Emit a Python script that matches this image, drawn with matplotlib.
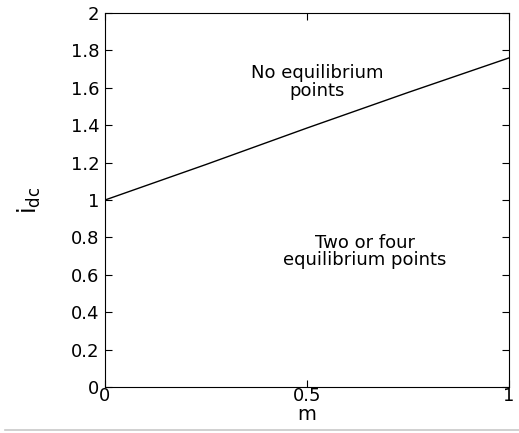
import matplotlib
matplotlib.use("Agg")
import matplotlib.pyplot as plt
from matplotlib.lines import Line2D

# boundary curve: m vs i_dc
m = [0.0, 0.25, 0.5, 0.75, 1.0]
idc = [1.0, 1.19, 1.385, 1.575, 1.76]

xticks = [0, 0.5, 1]
yticks = [0, 0.2, 0.4, 0.6, 0.8, 1.0, 1.2, 1.4, 1.6, 1.8, 2.0]

plt.rcParams["font.family"] = ["DejaVu Sans"]

fig = plt.figure(figsize=(5.19, 4.33), dpi=100)
ax = fig.add_axes([0.2023, 0.1062, 0.7784, 0.8637])

ax.plot(m, idc, color="black", lw=1.0)

ax.set_xlim(0, 1)
ax.set_ylim(0, 2)
ax.set_xticks(xticks)
ax.set_xticklabels([f"{v:g}" for v in xticks])
ax.set_yticks(yticks)
ax.set_yticklabels([f"{v:g}" for v in yticks])
ax.tick_params(direction="in", top=True, right=True, length=5, width=0.8,
               labelsize=13)
ax.tick_params(axis="x", pad=0)
ax.tick_params(axis="y", pad=4)
for s in ax.spines.values():
    s.set_linewidth(0.8)

ax.set_xlabel("m", fontsize=14, labelpad=0)
ax.set_ylabel(r"$\mathregular{i_{dc}}$", fontsize=17, labelpad=20)

# region labels, one line each on its baseline
ax.text(0.525, 1.652, "No equilibrium", ha="center", va="baseline", fontsize=13)
ax.text(0.525, 1.556, "points", ha="center", va="baseline", fontsize=13)
ax.text(0.643, 0.743, "Two or four", ha="center", va="baseline", fontsize=13)
ax.text(0.643, 0.650, "equilibrium points", ha="center", va="baseline",
        fontsize=13)

fig.add_artist(Line2D([0.01, 1.0], [0.007, 0.007], transform=fig.transFigure,
                      color="#c8c8c8", lw=1.2))

fig.savefig("out.png", dpi=100)
